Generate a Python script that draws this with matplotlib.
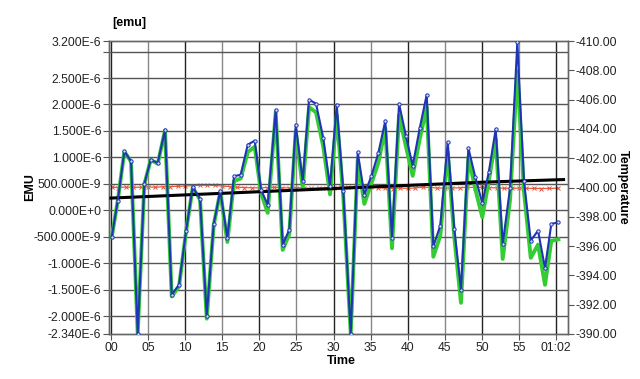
import matplotlib

matplotlib.use("Agg")

import matplotlib.pyplot as plt

plt.rcParams["font.family"] = ["Liberation Sans", "DejaVu Sans"]

# time in minutes
times = [0.11, 0.92, 1.81, 2.71, 3.61, 4.50, 5.36, 6.31, 7.29, 8.19,
         9.18, 10.12, 11.02, 12.01, 12.91, 13.85, 14.74, 15.69, 16.59, 17.49,
         18.44, 19.38, 20.23, 21.13, 22.21, 23.15, 24.04, 24.91, 25.85, 26.70,
         27.64, 28.62, 29.53, 30.43, 31.32, 32.32, 33.26, 34.15, 35.09, 36.04,
         36.98, 37.88, 38.83, 39.77, 40.67, 41.62, 42.56, 43.45, 44.39, 45.39,
         46.28, 47.18, 48.17, 49.11, 50.05, 50.92, 51.86, 52.80, 53.79, 54.77,
         55.67, 56.58, 57.56, 58.50, 59.35, 60.30]

# moment, units of 1e-6 emu
emu_raw = [-0.505, 0.18, 1.115, 0.926, -2.34, 0.497, 0.956, 0.894, 1.523, -1.596,
           -1.407, -0.397, 0.44, 0.213, -1.993, -0.26, 0.37, -0.524, 0.642, 0.673,
           1.24, 1.315, 0.389, 0.105, 1.901, -0.65, -0.367, 1.618, 0.548, 2.09,
           2.015, 1.366, 0.453, 1.996, 0.359, -2.34, 1.096, 0.295, 0.642, 1.083,
           1.693, -0.524, 2.015, 1.398, 0.843, 1.555, 2.185, -0.681, -0.292, 1.291,
           -0.354, -1.501, 1.177, 0.623, 0.137, 0.718, 1.536, -0.637, 0.421, 3.18,
           0.548, -0.575, -0.386, -1.091, -0.26, -0.227]

emu_corr = [-0.51, 0.18, 1.11, 0.92, -2.34, 0.49, 0.95, 0.88, 1.51, -1.63,
            -1.44, -0.41, 0.43, 0.20, -2.05, -0.28, 0.35, -0.60, 0.55, 0.60,
            1.10, 1.20, 0.33, -0.05, 1.85, -0.75, -0.45, 1.50, 0.42, 1.95,
            1.85, 1.20, 0.30, 1.80, 0.25, -2.34, 0.95, 0.12, 0.50, 0.90,
            1.55, -0.72, 1.80, 1.20, 0.65, 1.35, 1.95, -0.88, -0.48, 1.10,
            -0.52, -1.75, 1.00, 0.40, -0.13, 0.55, 1.35, -0.92, 0.20, 2.63,
            0.35, -0.90, -0.65, -1.41, -0.58, -0.55]

# baseline, units of 1e-6 emu
base_times = [0.0, 10.0, 20.0, 30.0, 40.0, 50.0, 61.0]
base_emu = [0.23, 0.29, 0.35, 0.41, 0.47, 0.53, 0.58]

# temperature readings, one per minute
temp_times = [0.1, 1, 2, 3, 4, 5, 6, 7, 8, 9, 10, 11, 12, 13, 14, 15, 16, 17, 18, 19,
              20, 21, 22, 23, 24, 25, 26, 27, 28, 29, 30, 31, 32, 33, 34, 35, 36, 37, 38, 39,
              40, 41, 42, 43, 44, 45, 46, 47, 48, 49, 50, 51, 52, 53, 54, 55, 56, 57, 58, 59, 60.3]
temperature = [-400.02, -400.00, -400.03, -400.01, -400.02, -400.04, -400.02, -400.05, -400.06, -400.08,
               -400.10, -400.13, -400.15, -400.16, -400.14, -400.10, -400.06, -400.02, -400.00, -399.98,
               -399.97, -400.00, -400.01, -399.98, -399.97, -400.00, -399.96, -399.95, -399.97, -399.98,
               -399.97, -400.02, -400.04, -400.08, -400.10, -400.06, -399.98, -399.95, -399.93, -399.96,
               -399.94, -399.97, -400.02, -400.00, -399.97, -399.95, -399.97, -399.98, -400.02, -400.00,
               -400.02, -399.99, -399.97, -399.95, -399.94, -399.96, -399.95, -399.94, -399.93, -399.94, -399.95]

x_ticks = [0, 5, 10, 15, 20, 25, 30, 35, 40, 45, 50, 55, 60]
x_labels = ["00", "05", "10", "15", "20", "25", "30", "35", "40", "45", "50", "55", "01:02"]

emu_ticks = [-2.34, -2.0, -1.5, -1.0, -0.5, 0.0, 0.5, 1.0, 1.5, 2.0, 2.5, 3.0, 3.2]
emu_labels = ["-2.340E-6", "-2.000E-6", "-1.500E-6", "-1.000E-6", "-500.000E-9", "0.000E+0",
              "500.000E-9", "1.000E-6", "1.500E-6", "2.000E-6", "2.500E-6", "", "3.200E-6"]

temp_ticks = [-410, -408, -406, -404, -402, -400, -398, -396, -394, -392, -390]

fig = plt.figure(figsize=(6.4, 3.79), dpi=100, facecolor="white")
ax = fig.add_axes([109 / 640, 1 - 334 / 379, 459 / 640, 293 / 379])
ax2 = ax.twinx()
ax.set_zorder(ax2.get_zorder() + 1)
ax.patch.set_visible(False)

sc = 1e-6
ax2.plot(temp_times, temperature, color="#e8553d", linewidth=0.9, marker="x",
         markersize=2.8, markeredgewidth=0.7)
ax.plot(times, [v * sc for v in emu_corr], color="#33cc33", linewidth=2.8, zorder=2)
ax.plot(base_times, [v * sc for v in base_emu], color="black", linewidth=2.2, zorder=3)
ax.plot(times, [v * sc for v in emu_raw], color="#1f35b5", linewidth=1.5, marker="o",
        markersize=2.4, markerfacecolor="#d8dcff", markeredgecolor="#1f35b5",
        markeredgewidth=0.7, zorder=4)

ax.set_xlim(-0.26, 61.6)
ax.set_ylim(-2.34 * sc, 3.2 * sc)
ax2.set_ylim(-390, -410)

ax.set_xticks(x_ticks)
ax.set_xticklabels(x_labels)
ax.set_yticks([v * sc for v in emu_ticks])
ax.set_yticklabels(emu_labels)
ax2.set_yticks(temp_ticks)
ax2.set_yticklabels([f"{v:.2f}" for v in temp_ticks])

for a in (ax, ax2):
    a.tick_params(labelsize=8.7, length=4, width=0.8, color="#555555", labelcolor="#222222", pad=1.5)
    for spine in a.spines.values():
        spine.set_color("#666666")
        spine.set_linewidth(1.0)

# grid
for t in x_ticks:
    ax.axvline(t, color="#222222" if t % 10 == 0 else "#888888", linewidth=1.0, zorder=0)
for v in emu_ticks[1:-1]:
    ax.axhline(v * sc, color="#555555", linewidth=1.0, zorder=0)

fig.text(129 / 640, 1 - 23 / 379, "[emu]", ha="center", va="center", fontsize=9, fontweight="bold")
fig.text(30 / 640, 1 - 187 / 379, "EMU", ha="center", va="center", rotation=90,
         fontsize=9, fontweight="bold")
fig.text(623 / 640, 1 - 187 / 379, "Temperature", ha="center", va="center", rotation=270,
         fontsize=9, fontweight="bold")
fig.text(341 / 640, 1 - 361 / 379, "Time", ha="center", va="center", fontsize=9, fontweight="bold")

fig.savefig("out.png", dpi=100, facecolor="white")
